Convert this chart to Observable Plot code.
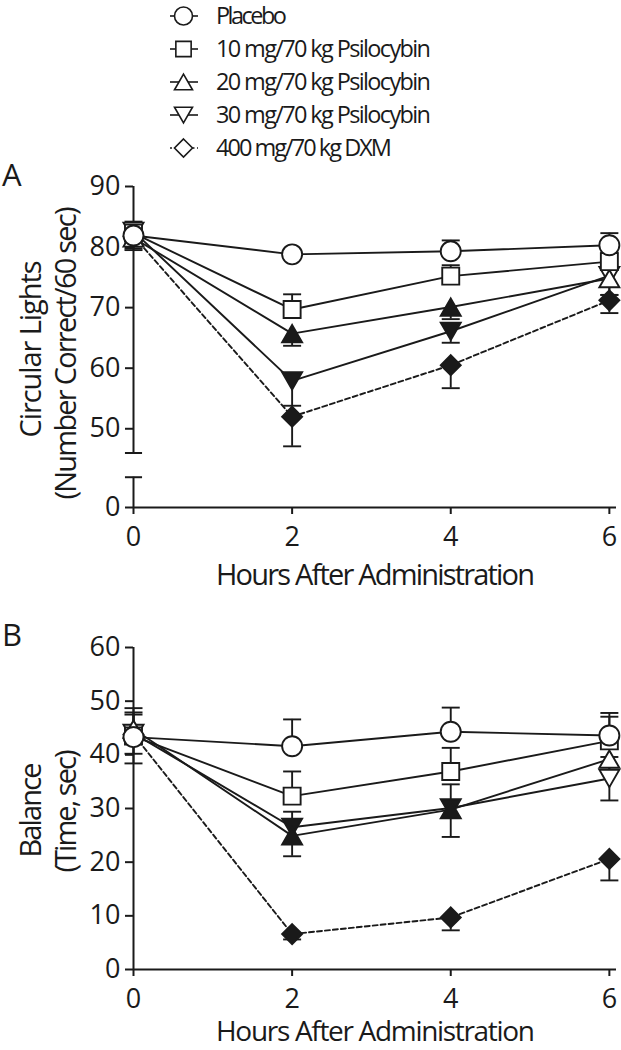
<!DOCTYPE html>
<html>
<head>
<meta charset="utf-8">
<script src="https://cdn.jsdelivr.net/npm/d3@7"></script>
<script src="https://cdn.jsdelivr.net/npm/@observablehq/plot@0.6"></script>
<style>
html, body { margin: 0; padding: 0; background: #fff; }
#fig { position: relative; width: 621px; height: 1050px; overflow: hidden; background: #fff; }
#fig svg { position: absolute; left: 0; overflow: visible; background: transparent; }
</style>
</head>
<body>
<div id="fig"></div>
<script>
// ---------------- data ----------------
const hours = [0, 2, 4, 6];
const groups = ["Placebo", "10 mg/70 kg Psilocybin", "20 mg/70 kg Psilocybin", "30 mg/70 kg Psilocybin", "400 mg/70 kg DXM"];

// Panel A: Circular Lights (Number Correct/60 sec), mean and SEM per group x hour
const lightsMean = [
  [81.9, 78.8, 79.3, 80.3],
  [82.3, 69.7, 75.2, 77.6],
  [81.5, 65.7, 70.1, 74.8],
  [82.6, 57.9, 66.1, 75.3],
  [81.8, 52.0, 60.5, 71.2]
];
const lightsSem = [
  [2.3, 0.8, 1.8, 2.0],
  [1.4, 2.5, 1.8, 1.5],
  [2.0, 2.0, 2.0, 2.7],
  [2.0, 4.1, 1.9, 3.2],
  [2.0, 4.9, 3.8, 2.1]
];
// filled symbol = significantly different from placebo
const lightsSig = [
  [false, false, false, false],
  [false, false, false, false],
  [false, true, true, false],
  [false, true, true, false],
  [false, true, true, true]
];
const lightsErrDir = [1, 1, -1, -1, -1];
const lightsTicks = [0, 50, 60, 70, 80, 90];

// Panel B: Balance (Time, sec)
const balanceMean = [
  [43.3, 41.6, 44.3, 43.6],
  [43.5, 32.3, 36.9, 42.6],
  [44.8, 24.9, 29.8, 39.2],
  [44.0, 26.5, 30.1, 35.6],
  [43.8, 6.6, 9.7, 20.6]
];
const balanceSem = [
  [5.4, 5.0, 4.5, 4.2],
  [4.4, 4.6, 4.4, 4.5],
  [4.6, 3.8, 5.1, 7.7],
  [3.5, 2.9, 4.4, 4.0],
  [5.4, 1.0, 2.4, 4.0]
];
const balanceSig = [
  [false, false, false, false],
  [false, false, false, false],
  [false, true, true, false],
  [false, true, true, false],
  [false, true, true, true]
];
const balanceErrDir = [1, 1, -1, 1, -1];
const balanceTicks = [0, 10, 20, 30, 40, 50, 60];

// ---------------- style ----------------
const INK = "#1a1a1a";
const FONT = "'Open Sans', 'Noto Sans', sans-serif";

function poly(ctx, pts) {
  ctx.moveTo(pts[0][0], pts[0][1]);
  for (let k = 1; k < pts.length; k++) ctx.lineTo(pts[k][0], pts[k][1]);
  ctx.closePath();
}
const symCircle = { draw(ctx, size) { const r = Math.sqrt(size / Math.PI); ctx.moveTo(r, 0); ctx.arc(0, 0, r, 0, 2 * Math.PI); } };
const symSquare = { draw(ctx, size) { const r = Math.sqrt(size / Math.PI) * 0.85; poly(ctx, [[-r, -r], [r, -r], [r, r], [-r, r]]); } };
const symTriUp = { draw(ctx, size) { const r = Math.sqrt(size / Math.PI); const h = r * Math.sqrt(3) / 2; poly(ctx, [[0, -h], [r, h], [-r, h]]); } };
const symTriDown = { draw(ctx, size) { const r = Math.sqrt(size / Math.PI); const h = r * Math.sqrt(3) / 2; poly(ctx, [[0, h], [r, -h], [-r, -h]]); } };
const symDiamond = { draw(ctx, size) { const r = Math.sqrt(size / Math.PI); poly(ctx, [[0, -r], [r, 0], [0, r], [-r, 0]]); } };
const symCap = { draw(ctx, size) { const r = Math.sqrt(size / Math.PI) * 0.9; ctx.moveTo(-r, 0); ctx.lineTo(r, 0); } };
const groupSymbols = [symCircle, symSquare, symTriUp, symTriDown, symDiamond];

const fig = document.getElementById("fig");

// ---------------- panels ----------------
function buildPanel(cfg) {
  const { means, sems, sig, dir, brk, unbrk, ticks, yMax, top, height, marginTop, marginBottom, axisSegs, breakVals } = cfg;
  const rows = [];
  means.forEach((arr, i) => arr.forEach((m, j) => rows.push({
    g: i, hour: hours[j], y: brk(m), yCap: brk(m + dir[i] * sems[i][j]), filled: sig[i][j]
  })));

  const marks = [
    Plot.ruleX(axisSegs, { x: () => 0, y1: d => brk(d[0]), y2: d => brk(d[1]), stroke: INK, strokeWidth: 2 }),
    Plot.ruleY([0], { stroke: INK, strokeWidth: 2 }),
    Plot.dot(breakVals, { x: () => 0, y: d => brk(d), symbol: symCap, r: 9.5, fill: "none", stroke: INK, strokeWidth: 2 }),
    Plot.axisY({ ticks: ticks.map(brk), tickFormat: t => String(unbrk(t)), tickSize: 8, tickPadding: 5, strokeWidth: 2, label: null }),
    Plot.axisX({ ticks: hours, tickFormat: d => String(d), tickSize: 7, tickPadding: 12, strokeWidth: 2, label: null }),
    Plot.ruleX(rows, { x: "hour", y1: "y", y2: "yCap", stroke: INK, strokeWidth: 1.9 }),
    Plot.dot(rows, { x: "hour", y: "yCap", symbol: symCap, r: 10, fill: "none", stroke: INK, strokeWidth: 1.9 })
  ];
  for (let i = 0; i < groups.length; i++) {
    marks.push(Plot.line(rows.filter(d => d.g === i), {
      x: "hour", y: "y", stroke: INK, strokeWidth: 1.9, strokeDasharray: i === 4 ? "5,3" : null
    }));
  }
  for (let i = groups.length - 1; i >= 0; i--) {
    marks.push(Plot.dot(rows.filter(d => d.g === i), {
      x: "hour", y: "y", symbol: groupSymbols[i], r: 10,
      fill: d => d.filled ? INK : "white", stroke: INK, strokeWidth: 1.9
    }));
  }

  const svg = Plot.plot({
    width: 621, height, marginLeft: 133, marginRight: 5, marginTop, marginBottom,
    x: { domain: [0, 6.09] },
    y: { domain: [0, yMax] },
    style: { fontFamily: FONT, fontSize: "27px", color: INK, background: "transparent", overflow: "visible" },
    marks
  });
  svg.style.top = top + "px";
  fig.appendChild(svg);
  return d3.select(svg);
}

function addText(sel, { x, y, text, size, len, rotate = 0, anchor = "middle" }) {
  const t = sel.append("text")
    .attr("transform", `translate(${x},${y}) rotate(${rotate})`)
    .attr("text-anchor", anchor)
    .attr("font-family", FONT).attr("font-size", size).attr("fill", INK)
    .text(text);
  if (len) t.attr("textLength", len).attr("lengthAdjust", "spacing");
  return t;
}

// Panel A with broken y axis (0–5, then 46–90)
const brkA = v => (v <= 5 ? v : v - 37);
const unbrkA = t => (t <= 5 ? t : t + 37);
const topA = 150;
const svgA = buildPanel({
  means: lightsMean, sems: lightsSem, sig: lightsSig, dir: lightsErrDir,
  brk: brkA, unbrk: unbrkA, ticks: lightsTicks, yMax: brkA(90),
  top: topA, height: 445, marginTop: 36, marginBottom: 88,
  axisSegs: [[0, 5], [46, 90]], breakVals: [5, 46]
});
addText(svgA, { x: 2, y: 186 - topA, text: "A", size: 31, anchor: "start" });
addText(svgA, { x: 41, y: 349 - topA, text: "Circular Lights", size: 29, len: 177, rotate: -90 });
addText(svgA, { x: 76, y: 353 - topA, text: "(Number Correct/60 sec)", size: 29, len: 293, rotate: -90 });
addText(svgA, { x: 375.5, y: 585 - topA, text: "Hours After Administration", size: 29, len: 319 });

// Panel B
const idB = v => v;
const topB = 595;
const svgB = buildPanel({
  means: balanceMean, sems: balanceSem, sig: balanceSig, dir: balanceErrDir,
  brk: idB, unbrk: idB, ticks: balanceTicks, yMax: 60,
  top: topB, height: 455, marginTop: 52, marginBottom: 81,
  axisSegs: [[0, 60]], breakVals: []
});
addText(svgB, { x: 2, y: 646 - topB, text: "B", size: 31, anchor: "start" });
addText(svgB, { x: 41, y: 810 - topB, text: "Balance", size: 29, len: 95, rotate: -90 });
addText(svgB, { x: 76, y: 811 - topB, text: "(Time, sec)", size: 29, len: 123, rotate: -90 });
addText(svgB, { x: 375.5, y: 1041 - topB, text: "Hours After Administration", size: 28, len: 319 });

// ---------------- legend (drawn last, on top) ----------------
(function legend() {
  const svg = d3.select(fig).append("svg")
    .attr("width", 621).attr("height", 165).style("top", "0px");
  const y = d3.scalePoint().domain(groups).range([16, 148]);
  const widths = [71, 215, 215, 215, 176];
  groups.forEach((g, i) => {
    const cy = y(g);
    svg.append("line").attr("x1", 170).attr("x2", 198).attr("y1", cy).attr("y2", cy)
      .attr("stroke", INK).attr("stroke-width", 1.6)
      .attr("stroke-dasharray", i === 4 ? "2,2.5" : null);
    const p = d3.path();
    groupSymbols[i].draw(p, Math.PI * 9 * 9);
    svg.append("path").attr("d", p.toString()).attr("transform", `translate(183.5,${cy})`)
      .attr("fill", "white").attr("stroke", INK).attr("stroke-width", 1.6);
    svg.append("text").attr("x", 216).attr("y", cy + 8.2)
      .attr("font-family", FONT).attr("font-size", 23.5).attr("fill", INK)
      .attr("textLength", widths[i]).attr("lengthAdjust", "spacing")
      .text(g);
  });
})();
</script>
</body>
</html>
